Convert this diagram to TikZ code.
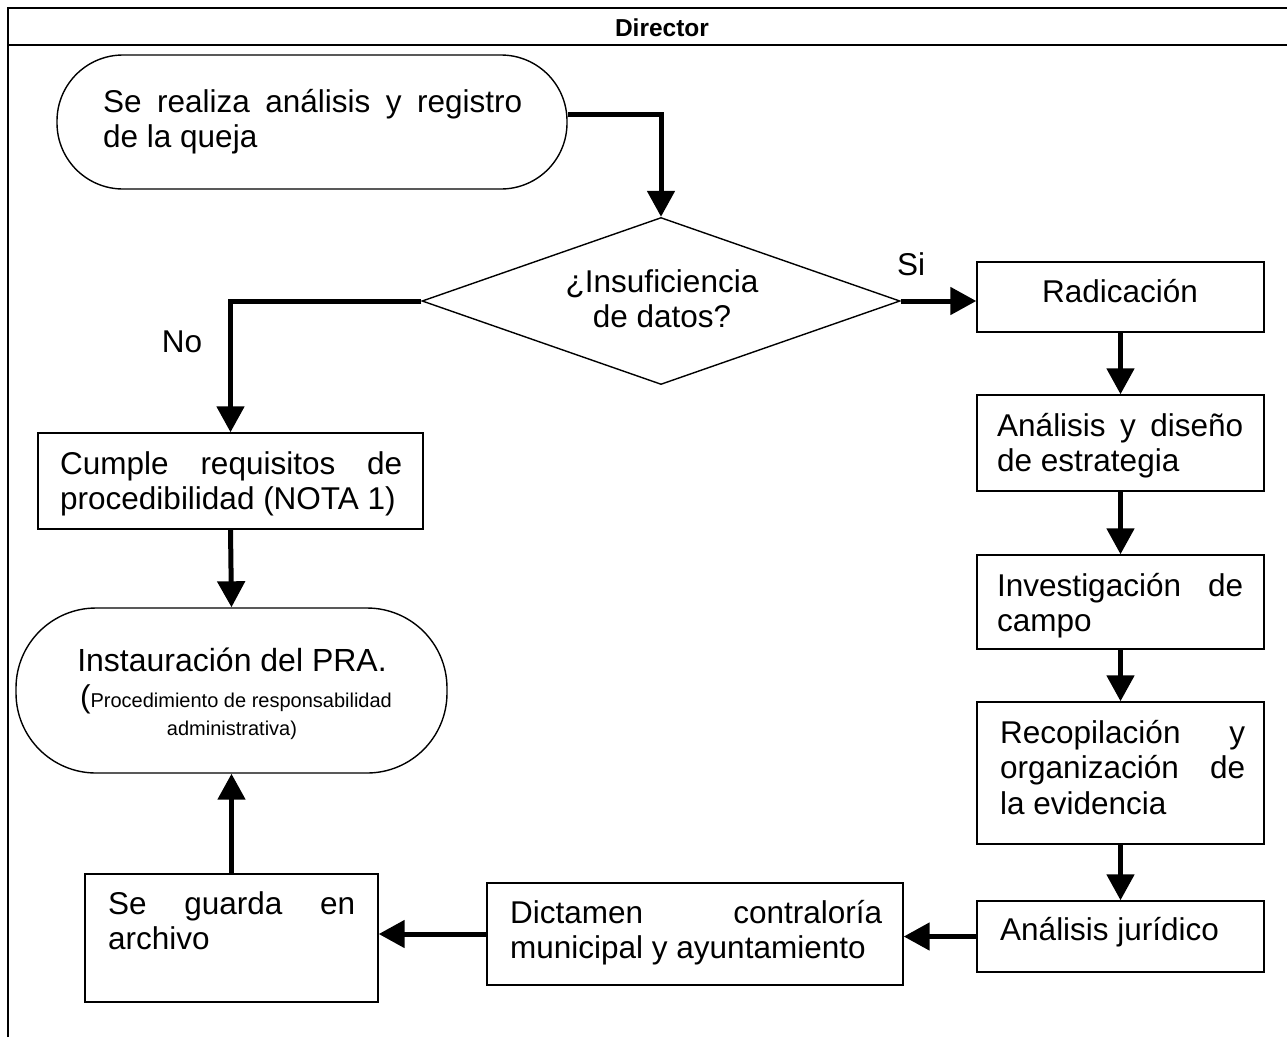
\documentclass[tikz,border=0pt]{standalone}
\usepackage{fontspec}
\setmainfont{Liberation Sans}
\usetikzlibrary{arrows.meta,shapes.geometric}
\newcommand\fmain{\fontsize{31.5}{35.5}\selectfont}
\newcommand\fsmall{\fontsize{20}{28}\selectfont}
\newcommand\jl[2]{\makebox[#1pt][s]{#2}}
\begin{document}
\begin{tikzpicture}[x=1pt,y=-1pt,
  box/.style={draw, line width=1.4pt, inner sep=0pt},
  term/.style={box, rounded corners=#1},
  dia/.style={draw, line width=1.4pt, diamond, inner sep=0pt},
  arr/.style={line width=5pt, -{Triangle[length=26pt,width=27pt]}},
  txt/.style={font=\fmain, inner sep=0pt, align=left, anchor=north west},
  ctxt/.style={font=\fmain, inner sep=0pt, anchor=base},
  frameline/.style={line width=2.8pt}]
\useasboundingbox (0,0) rectangle (1287,1037);
% frame and header
\draw[frameline] (8,1037) -- (8,8) -- (1287,8);
\draw[frameline] (8,45) -- (1287,45);
\node[font=\bfseries\fontsize{24.5}{28}\selectfont, inner sep=0pt, anchor=base] (hdr) at (662,36) {Director};
% shapes
\node[term=66pt, minimum width=510pt, minimum height=134pt] (T1) at (312,122) {};
\node[dia, minimum width=478pt, minimum height=167pt] (D) at (661,301) {};
\node[box, minimum width=287pt, minimum height=70pt] (R) at (1120.5,297) {};
\node[box, minimum width=287pt, minimum height=96pt] (A) at (1120.5,443) {};
\node[box, minimum width=287pt, minimum height=94pt] (I) at (1120.5,602) {};
\node[box, minimum width=287pt, minimum height=142pt] (Rc) at (1120.5,773) {};
\node[box, minimum width=287pt, minimum height=71pt] (AJ) at (1120.5,936.5) {};
\node[box, minimum width=416pt, minimum height=102pt] (Dc) at (695,934) {};
\node[box, minimum width=293pt, minimum height=128pt] (SG) at (231.5,938) {};
\node[box, minimum width=385pt, minimum height=96pt] (C) at (230.5,481) {};
\node[term=80pt, minimum width=431pt, minimum height=165pt] (IN) at (231.5,690.5) {};
% texts
\node[txt] (t1) at (103,87.15) {\strut\jl{419}{Se realiza análisis y registro}\\de la queja};
\node[font=\fmain, inner sep=0pt, align=center, anchor=north] (tD) at (662,267.15) {\strut¿Insuficiencia\\de datos?};
\node[ctxt] (tR) at (1120,302) {Radicación};
\node[txt] (tA) at (997,411.15) {\strut\jl{246}{Análisis y diseño}\\de estrategia};
\node[txt] (tI) at (997,571.15) {\strut\jl{246}{Investigación de}\\campo};
\node[txt] (tRc) at (1000,718.15) {\strut\jl{245}{Recopilación y}\\\jl{245}{organización de}\\la evidencia};
\node[txt] (tAJ) at (1000,915.15) {\strut Análisis jurídico};
\node[txt] (tDc) at (510,898.15) {\strut\jl{372}{Dictamen contraloría}\\municipal y ayuntamiento};
\node[txt] (tSG) at (108,889.15) {\strut\jl{247}{Se guarda en}\\archivo};
\node[txt] (tC) at (60,449.15) {\strut\jl{342}{Cumple requisitos de}\\procedibilidad (NOTA 1)};
\node[font=\fontsize{32}{36}\selectfont, inner sep=0pt, anchor=base] (tIN1) at (232,671) {Instauración del PRA.};
\node[font=\fmain, inner sep=0pt, anchor=base] (tIN2) at (236,707) {(\fsmall Procedimiento de responsabilidad};
\node[font=\fsmall, inner sep=0pt, anchor=base] (tIN3) at (232,735) {administrativa)};
\node[ctxt] (si) at (911,275) {Si};
\node[ctxt] (no) at (182,352) {No};
% connectors
\draw[arr] ([yshift=8pt]T1.east) -| (D.north);
\draw[arr] (D.west) -| (C.north);
\draw[arr] (D.east) -- (D.east -| R.west);
\draw[arr] (R.south) -- (A.north);
\draw[arr] (A.south) -- (I.north);
\draw[arr] (I.south) -- (Rc.north);
\draw[arr] (Rc.south) -- (AJ.north);
\draw[arr] (AJ.west) -- (AJ.west -| Dc.east);
\draw[arr] (Dc.west) -- (Dc.west -| SG.east);
\draw[arr] (SG.north) -- (IN.south);
\draw[arr] (C.south) -- (IN.north);
\end{tikzpicture}
\end{document}
